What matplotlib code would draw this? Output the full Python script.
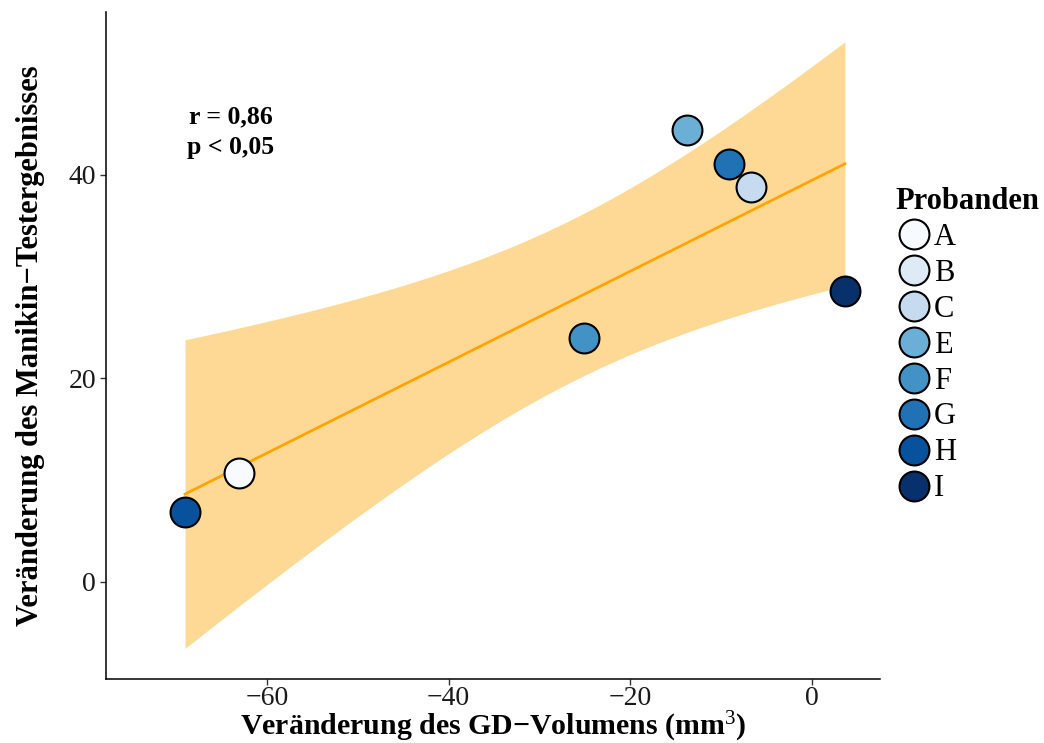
import numpy as np
import matplotlib
matplotlib.use("Agg")
import matplotlib.pyplot as plt
from matplotlib.lines import Line2D

plt.rcParams["font.family"] = ["Liberation Serif", "DejaVu Serif"]
plt.rcParams["mathtext.fontset"] = "custom"
plt.rcParams["mathtext.rm"] = "Liberation Serif"
plt.rcParams["mathtext.default"] = "rm"

# Probanden (B has no paired measurement)
subjects = ["A", "B", "C", "E", "F", "G", "H", "I"]
gd_change = [-63.1, np.nan, -6.7, -13.7, -25.05, -9.1, -69.0, 3.63]
manikin_change = [10.66, np.nan, 38.84, 44.35, 23.93, 41.07, 6.88, 28.61]
colors = ["#F7FBFF", "#DEEBF7", "#C6DBEF", "#6BAED6", "#4292C6",
          "#2171B5", "#08519C", "#08306B"]
x_ticks = [-60, -40, -20, 0]
y_ticks = [0, 20, 40]

x = np.array(gd_change, dtype=float)
y = np.array(manikin_change, dtype=float)
ok = ~np.isnan(x) & ~np.isnan(y)
xv, yv = x[ok], y[ok]

# linear fit with 95% confidence band
n = len(xv)
slope, intercept = np.polyfit(xv, yv, 1)
resid = yv - (slope * xv + intercept)
s = np.sqrt(np.sum(resid ** 2) / (n - 2))
sxx = np.sum((xv - xv.mean()) ** 2)
t_crit = 2.570582  # t(0.975, df=5)
xs = np.linspace(xv.min(), xv.max(), 200)
ys = slope * xs + intercept
se = s * np.sqrt(1.0 / n + (xs - xv.mean()) ** 2 / sxx)
r = np.corrcoef(xv, yv)[0, 1]

fig = plt.figure(figsize=(10.44, 7.43), dpi=100)
ax = fig.add_axes([0.1015, 0.0862, 0.7415, 0.8977])

ax.fill_between(xs, ys - t_crit * se, ys + t_crit * se, color="#FDD995",
                linewidth=0, zorder=1)
ax.plot(xs, ys, color="#FFA500", linewidth=2.0, zorder=2)

for xi, yi, c in zip(x, y, colors):
    if np.isnan(xi):
        continue
    ax.plot(xi, yi, "o", markersize=21.5, markerfacecolor=c,
            markeredgecolor="black", markeredgewidth=1.5, zorder=3)

ax.text(-64.0, 44.2, "r = " + f"{r:.2f}".replace(".", ",") + "\np < 0,05",
        ha="center", va="center", fontsize=18.5, fontweight="bold",
        linespacing=1.4, zorder=4)

ax.set_xlim(-77.7, 7.5)
ax.set_ylim(-9.57, 56.0)
ax.set_xticks(x_ticks)
ax.set_yticks(y_ticks)
ax.set_xticklabels([f"{v}".replace("-", "\u2212") for v in x_ticks])
ax.tick_params(axis="both", labelsize=20, length=4, width=1.0,
               color="#333333", labelcolor="#1a1a1a")
ax.tick_params(axis="x", pad=1)
ax.tick_params(axis="y", pad=3)
for side in ["top", "right"]:
    ax.spines[side].set_visible(False)
for side in ["left", "bottom"]:
    ax.spines[side].set_linewidth(1.1)

ax.set_xlabel("Veränderung des GD\u2212Volumens (mm$^{3}$)", fontsize=21.5,
              fontweight="bold", labelpad=-0.5)
ax.set_ylabel("Veränderung des Manikin\u2212Testergebnisses", fontsize=22,
              fontweight="bold", labelpad=17)

handles = [Line2D([], [], marker="o", linestyle="", markersize=21.5,
                  markerfacecolor=c, markeredgecolor="black",
                  markeredgewidth=1.5) for c in colors]
leg = fig.legend(handles, subjects, loc="upper left",
                 bbox_to_anchor=(0.858, 0.748), frameon=False,
                 fontsize=22, title="Probanden",
                 title_fontproperties={"weight": "bold", "size": 22},
                 handlelength=1.2, handletextpad=0.05, labelspacing=0.225,
                 borderpad=0.0, borderaxespad=0.0, alignment="left")

fig.savefig("out.png", dpi=100)
